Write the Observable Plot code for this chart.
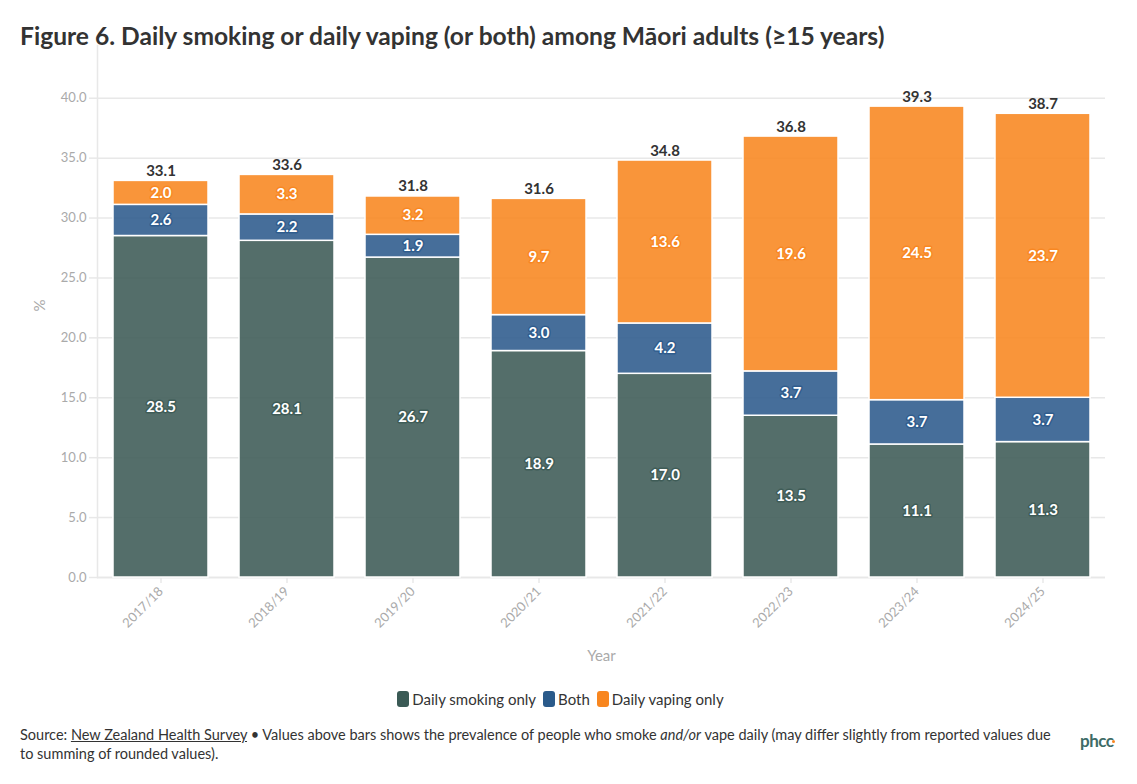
<!DOCTYPE html>
<html><head><meta charset="utf-8">
<script src="https://cdn.jsdelivr.net/npm/d3@7"></script>
<script src="https://cdn.jsdelivr.net/npm/@observablehq/plot@0.6"></script>
<style>
body{margin:0;background:#fff;font-family:Lato,"Noto Sans",sans-serif;width:1137px;height:784px;position:relative;overflow:hidden}
#title{position:absolute;left:20px;top:21px;font-size:24.6px;font-weight:700;color:#333;white-space:nowrap}
#chart{position:absolute;left:0;top:40px}
#legend{position:absolute;top:690px;left:-8px;width:1137px;display:flex;justify-content:center;gap:7px;font-size:15px;color:#333}
#legend .it{display:flex;align-items:center;gap:3px}
#legend .sw{width:12px;height:16px;border-radius:3px;display:inline-block}
#caption{position:absolute;left:20px;top:725px;width:1045px;font-size:14.5px;line-height:19px;color:#333}
#caption u{text-decoration:underline}
#logo{position:absolute;left:1080px;top:730px;font-size:17px;color:#3d6b66;font-weight:700;letter-spacing:-0.5px}
#logo span{color:#3d6b66;position:relative}
#logo span::after{content:"";position:absolute;width:3px;height:3px;border-radius:2px;background:#f8861f;right:-1px;top:10px}
</style></head>
<body>
<div id="title">Figure 6. Daily smoking or daily vaping (or both) among Māori adults (≥15 years)</div>
<div id="chart"></div>
<div id="legend"></div>
<div id="caption">Source: <u>New Zealand Health Survey</u> • Values above bars shows the prevalence of people who smoke <i>and/or</i> vape daily (may differ slightly from reported values due to summing of rounded values).</div>
<div id="logo">phc<span>c</span></div>
<script>
const years = ["2017/18","2018/19","2019/20","2020/21","2021/22","2022/23","2023/24","2024/25"];
const series = ["Daily smoking only","Both","Daily vaping only"];
const smoking = [28.5,28.1,26.7,18.9,17.0,13.5,11.1,11.3];
const both = [2.6,2.2,1.9,3.0,4.2,3.7,3.7,3.7];
const vaping = [2.0,3.3,3.2,9.7,13.6,19.6,24.5,23.7];
const totals = [33.1,33.6,31.8,31.6,34.8,36.8,39.3,38.7];
const yTicks = [0,5,10,15,20,25,30,35,40];
const axisLabels = {x:"Year", y:"%"};
const barColors = ["#3c5a55","#2c5a8c","#f8861f"];
const legendColors = ["#3a5a55","#2a5a8a","#f8861f"];

const rows = [];
years.forEach((y,i)=>{
  rows.push({year:y, series:series[0], value:smoking[i]});
  rows.push({year:y, series:series[1], value:both[i]});
  rows.push({year:y, series:series[2], value:vaping[i]});
});
const totalRows = years.map((y,i)=>({year:y,total:totals[i]}));

const grid = "#e8e8e8", tickText = "#aaaaaa";
const chart = Plot.plot({
  width:1137, height:625, marginLeft:97, marginRight:32, marginTop:5, marginBottom:88,
  style:{fontFamily:"Lato, 'Noto Sans', sans-serif", overflow:"visible", background:"transparent"},
  x:{domain:years, paddingInner:0.25, paddingOuter:0.125, align:0.5},
  y:{domain:[0,44.4]},
  color:{domain:series, range:barColors},
  marks:[
    Plot.gridY(yTicks,{stroke:grid, strokeOpacity:1, strokeWidth:1.5}),
    Plot.frame({anchor:"left", stroke:grid, strokeWidth:1.5}),
    Plot.ruleY([0],{stroke:grid, strokeWidth:1.5}),
    Plot.axisY({ticks:yTicks, tickFormat:d3.format(".1f"), tickSize:8, tickPadding:3, stroke:grid, strokeWidth:1.5, fill:tickText, fontSize:13, label:null}),
    Plot.axisX({tickRotate:-45, tickSize:6, stroke:grid, strokeWidth:1.5, fill:tickText, fontSize:13, label:null}),
    Plot.text([axisLabels.x],{frameAnchor:"bottom", dy:83, text:d=>d, fill:tickText, fontSize:15}),
    Plot.text([axisLabels.y],{frameAnchor:"left", dx:-57, rotate:-90, text:d=>d, fill:tickText, fontSize:15}),
    Plot.barY(rows,{x:"year", y:"value", fill:"series", fillOpacity:0.88, stroke:"white", strokeWidth:1.5, order:series}),
    Plot.text(rows, Plot.stackY({x:"year", y:"value", z:"series", order:series, text:d=>d.value.toFixed(1), fill:"white", stroke:"series", strokeWidth:3, strokeOpacity:0.9, fontWeight:"bold", fontSize:15, paintOrder:"stroke"})),
    Plot.text(totalRows,{x:"year", y:"total", text:d=>d.total.toFixed(1), fill:"#333", fontWeight:"bold", fontSize:15, lineAnchor:"bottom", dy:-5})
  ]
});
document.getElementById("chart").appendChild(chart);

const leg = document.getElementById("legend");
series.forEach((s,i)=>{
  const it = document.createElement("span"); it.className="it";
  const sw = document.createElement("span"); sw.className="sw"; sw.style.background=legendColors[i];
  const t = document.createElement("span"); t.textContent=s;
  it.appendChild(sw); it.appendChild(t); leg.appendChild(it);
});
</script>
</body></html>
